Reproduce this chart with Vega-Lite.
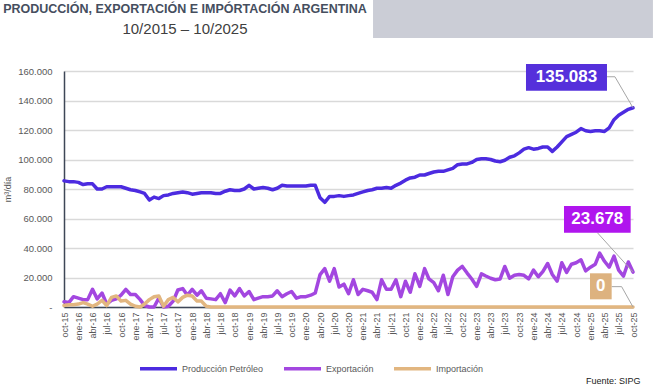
{
  "$schema": "https://vega.github.io/schema/vega-lite/v6.json",
  "width": 569,
  "height": 236,
  "autosize": {"type": "none"},
  "padding": {"left": 64, "top": 71, "right": 20, "bottom": 80},
  "background": "white",
  "config": {
    "view": {"stroke": null},
    "font": "Liberation Sans"
  },
  "title": {
    "text": "PRODUCCIÓN, EXPORTACIÓN E IMPÓRTACIÓN ARGENTINA",
    "subtitle": "10/2015 – 10/2025",
    "anchor": "start",
    "frame": "group",
    "align": "center",
    "dx": 121,
    "offset": -37,
    "font": "Liberation Sans",
    "fontSize": 12.5,
    "fontWeight": "bold",
    "color": "#454E5E",
    "subtitleFont": "Liberation Sans",
    "subtitleFontSize": 15,
    "subtitleColor": "#404040",
    "subtitlePadding": 6
  },
  "datasets": {
    "serie": [
      {"fecha": "2015-10-01", "Producción Petróleo": 85500, "Exportación": 3500, "Importación": 1000},
      {"fecha": "2015-11-01", "Producción Petróleo": 85000, "Exportación": 3000, "Importación": 1500},
      {"fecha": "2015-12-01", "Producción Petróleo": 85000, "Exportación": 7000, "Importación": 1500},
      {"fecha": "2016-01-01", "Producción Petróleo": 84500, "Exportación": 6000, "Importación": 2000},
      {"fecha": "2016-02-01", "Producción Petróleo": 83000, "Exportación": 5000, "Importación": 3000},
      {"fecha": "2016-03-01", "Producción Petróleo": 83500, "Exportación": 5000, "Importación": 2000},
      {"fecha": "2016-04-01", "Producción Petróleo": 83500, "Exportación": 12000, "Importación": 500},
      {"fecha": "2016-05-01", "Producción Petróleo": 80000, "Exportación": 5500, "Importación": 2000},
      {"fecha": "2016-06-01", "Producción Petróleo": 80000, "Exportación": 9500, "Importación": 4500},
      {"fecha": "2016-07-01", "Producción Petróleo": 81500, "Exportación": 2000, "Importación": 1000},
      {"fecha": "2016-08-01", "Producción Petróleo": 81500, "Exportación": 4500, "Importación": 6500},
      {"fecha": "2016-09-01", "Producción Petróleo": 81500, "Exportación": 5500, "Importación": 7500},
      {"fecha": "2016-10-01", "Producción Petróleo": 81500, "Exportación": 8000, "Importación": 4000},
      {"fecha": "2016-11-01", "Producción Petróleo": 80500, "Exportación": 12000, "Importación": 4500},
      {"fecha": "2016-12-01", "Producción Petróleo": 79500, "Exportación": 8500, "Importación": 2000},
      {"fecha": "2017-01-01", "Producción Petróleo": 79000, "Exportación": 8500, "Importación": 500},
      {"fecha": "2017-02-01", "Producción Petróleo": 78000, "Exportación": 5000, "Importación": 0},
      {"fecha": "2017-03-01", "Producción Petróleo": 77000, "Exportación": 1000, "Importación": 2000},
      {"fecha": "2017-04-01", "Producción Petróleo": 72500, "Exportación": 0, "Importación": 5000},
      {"fecha": "2017-05-01", "Producción Petróleo": 74500, "Exportación": 0, "Importación": 7000},
      {"fecha": "2017-06-01", "Producción Petróleo": 73500, "Exportación": 6000, "Importación": 7500},
      {"fecha": "2017-07-01", "Producción Petróleo": 75500, "Exportación": 0, "Importación": 500},
      {"fecha": "2017-08-01", "Producción Petróleo": 76000, "Exportación": 500, "Importación": 5000},
      {"fecha": "2017-09-01", "Producción Petróleo": 77000, "Exportación": 4000, "Importación": 6500},
      {"fecha": "2017-10-01", "Producción Petróleo": 77500, "Exportación": 11500, "Importación": 3500},
      {"fecha": "2017-11-01", "Producción Petróleo": 78000, "Exportación": 12500, "Importación": 6500},
      {"fecha": "2017-12-01", "Producción Petróleo": 77500, "Exportación": 8000, "Importación": 8000},
      {"fecha": "2018-01-01", "Producción Petróleo": 76500, "Exportación": 12000, "Importación": 7500},
      {"fecha": "2018-02-01", "Producción Petróleo": 77000, "Exportación": 8000, "Importación": 4000},
      {"fecha": "2018-03-01", "Producción Petróleo": 77500, "Exportación": 11000, "Importación": 4000},
      {"fecha": "2018-04-01", "Producción Petróleo": 77500, "Exportación": 6000, "Importación": 500},
      {"fecha": "2018-05-01", "Producción Petróleo": 77500, "Exportación": 5500, "Importación": 0},
      {"fecha": "2018-06-01", "Producción Petróleo": 77000, "Exportación": 5000, "Importación": 0},
      {"fecha": "2018-07-01", "Producción Petróleo": 77000, "Exportación": 9000, "Importación": 0},
      {"fecha": "2018-08-01", "Producción Petróleo": 78500, "Exportación": 3000, "Importación": 0},
      {"fecha": "2018-09-01", "Producción Petróleo": 79500, "Exportación": 11500, "Importación": 0},
      {"fecha": "2018-10-01", "Producción Petróleo": 79000, "Exportación": 7500, "Importación": 0},
      {"fecha": "2018-11-01", "Producción Petróleo": 79000, "Exportación": 12500, "Importación": 0},
      {"fecha": "2018-12-01", "Producción Petróleo": 80000, "Exportación": 7500, "Importación": 0},
      {"fecha": "2019-01-01", "Producción Petróleo": 82500, "Exportación": 10500, "Importación": 0},
      {"fecha": "2019-02-01", "Producción Petróleo": 80000, "Exportación": 5000, "Importación": 0},
      {"fecha": "2019-03-01", "Producción Petróleo": 80500, "Exportación": 6000, "Importación": 0},
      {"fecha": "2019-04-01", "Producción Petróleo": 81000, "Exportación": 7000, "Importación": 0},
      {"fecha": "2019-05-01", "Producción Petróleo": 80500, "Exportación": 7000, "Importación": 0},
      {"fecha": "2019-06-01", "Producción Petróleo": 79500, "Exportación": 7500, "Importación": 0},
      {"fecha": "2019-07-01", "Producción Petróleo": 80500, "Exportación": 11000, "Importación": 0},
      {"fecha": "2019-08-01", "Producción Petróleo": 82500, "Exportación": 7000, "Importación": 0},
      {"fecha": "2019-09-01", "Producción Petróleo": 82000, "Exportación": 9000, "Importación": 0},
      {"fecha": "2019-10-01", "Producción Petróleo": 82000, "Exportación": 10500, "Importación": 0},
      {"fecha": "2019-11-01", "Producción Petróleo": 82000, "Exportación": 6000, "Importación": 0},
      {"fecha": "2019-12-01", "Producción Petróleo": 82000, "Exportación": 7000, "Importación": 0},
      {"fecha": "2020-01-01", "Producción Petróleo": 82000, "Exportación": 7000, "Importación": 0},
      {"fecha": "2020-02-01", "Producción Petróleo": 82500, "Exportación": 8000, "Importación": 0},
      {"fecha": "2020-03-01", "Producción Petróleo": 82500, "Exportación": 9500, "Importación": 0},
      {"fecha": "2020-04-01", "Producción Petróleo": 74000, "Exportación": 22000, "Importación": 0},
      {"fecha": "2020-05-01", "Producción Petróleo": 71000, "Exportación": 26000, "Importación": 0},
      {"fecha": "2020-06-01", "Producción Petróleo": 75000, "Exportación": 17500, "Importación": 0},
      {"fecha": "2020-07-01", "Producción Petróleo": 75000, "Exportación": 26000, "Importación": 0},
      {"fecha": "2020-08-01", "Producción Petróleo": 75500, "Exportación": 13500, "Importación": 0},
      {"fecha": "2020-09-01", "Producción Petróleo": 75000, "Exportación": 15500, "Importación": 0},
      {"fecha": "2020-10-01", "Producción Petróleo": 75500, "Exportación": 9000, "Importación": 0},
      {"fecha": "2020-11-01", "Producción Petróleo": 76000, "Exportación": 18500, "Importación": 0},
      {"fecha": "2020-12-01", "Producción Petróleo": 77000, "Exportación": 8500, "Importación": 0},
      {"fecha": "2021-01-01", "Producción Petróleo": 78000, "Exportación": 12000, "Importación": 0},
      {"fecha": "2021-02-01", "Producción Petróleo": 79000, "Exportación": 11000, "Importación": 0},
      {"fecha": "2021-03-01", "Producción Petróleo": 79500, "Exportación": 10000, "Importación": 0},
      {"fecha": "2021-04-01", "Producción Petróleo": 80500, "Exportación": 5000, "Importación": 0},
      {"fecha": "2021-05-01", "Producción Petróleo": 80500, "Exportación": 18500, "Importación": 0},
      {"fecha": "2021-06-01", "Producción Petróleo": 81000, "Exportación": 12000, "Importación": 0},
      {"fecha": "2021-07-01", "Producción Petróleo": 80500, "Exportación": 12000, "Importación": 0},
      {"fecha": "2021-08-01", "Producción Petróleo": 82500, "Exportación": 18500, "Importación": 0},
      {"fecha": "2021-09-01", "Producción Petróleo": 84000, "Exportación": 7000, "Importación": 0},
      {"fecha": "2021-10-01", "Producción Petróleo": 86000, "Exportación": 17500, "Importación": 0},
      {"fecha": "2021-11-01", "Producción Petróleo": 87500, "Exportación": 10000, "Importación": 0},
      {"fecha": "2021-12-01", "Producción Petróleo": 88000, "Exportación": 22500, "Importación": 0},
      {"fecha": "2022-01-01", "Producción Petróleo": 89500, "Exportación": 14000, "Importación": 0},
      {"fecha": "2022-02-01", "Producción Petróleo": 89500, "Exportación": 26000, "Importación": 0},
      {"fecha": "2022-03-01", "Producción Petróleo": 90500, "Exportación": 19000, "Importación": 0},
      {"fecha": "2022-04-01", "Producción Petróleo": 91500, "Exportación": 16500, "Importación": 0},
      {"fecha": "2022-05-01", "Producción Petróleo": 92000, "Exportación": 11000, "Importación": 0},
      {"fecha": "2022-06-01", "Producción Petróleo": 92000, "Exportación": 21500, "Importación": 0},
      {"fecha": "2022-07-01", "Producción Petróleo": 93000, "Exportación": 8500, "Importación": 0},
      {"fecha": "2022-08-01", "Producción Petróleo": 94000, "Exportación": 20500, "Importación": 0},
      {"fecha": "2022-09-01", "Producción Petróleo": 96500, "Exportación": 25000, "Importación": 0},
      {"fecha": "2022-10-01", "Producción Petróleo": 97000, "Exportación": 27500, "Importación": 0},
      {"fecha": "2022-11-01", "Producción Petróleo": 97000, "Exportación": 23000, "Importación": 0},
      {"fecha": "2022-12-01", "Producción Petróleo": 98000, "Exportación": 19000, "Importación": 0},
      {"fecha": "2023-01-01", "Producción Petróleo": 100000, "Exportación": 14000, "Importación": 0},
      {"fecha": "2023-02-01", "Producción Petróleo": 100500, "Exportación": 22500, "Importación": 0},
      {"fecha": "2023-03-01", "Producción Petróleo": 100500, "Exportación": 21000, "Importación": 0},
      {"fecha": "2023-04-01", "Producción Petróleo": 100000, "Exportación": 19500, "Importación": 0},
      {"fecha": "2023-05-01", "Producción Petróleo": 99000, "Exportación": 18500, "Importación": 0},
      {"fecha": "2023-06-01", "Producción Petróleo": 98500, "Exportación": 19000, "Importación": 0},
      {"fecha": "2023-07-01", "Producción Petróleo": 99500, "Exportación": 27500, "Importación": 0},
      {"fecha": "2023-08-01", "Producción Petróleo": 101500, "Exportación": 19500, "Importación": 0},
      {"fecha": "2023-09-01", "Producción Petróleo": 102500, "Exportación": 21500, "Importación": 0},
      {"fecha": "2023-10-01", "Producción Petróleo": 104500, "Exportación": 22000, "Importación": 0},
      {"fecha": "2023-11-01", "Producción Petróleo": 107000, "Exportación": 21500, "Importación": 0},
      {"fecha": "2023-12-01", "Producción Petróleo": 108000, "Exportación": 19000, "Importación": 0},
      {"fecha": "2024-01-01", "Producción Petróleo": 107000, "Exportación": 25000, "Importación": 0},
      {"fecha": "2024-02-01", "Producción Petróleo": 107500, "Exportación": 20500, "Importación": 0},
      {"fecha": "2024-03-01", "Producción Petróleo": 108500, "Exportación": 24000, "Importación": 0},
      {"fecha": "2024-04-01", "Producción Petróleo": 108500, "Exportación": 29500, "Importación": 0},
      {"fecha": "2024-05-01", "Producción Petróleo": 105500, "Exportación": 22000, "Importación": 0},
      {"fecha": "2024-06-01", "Producción Petróleo": 108500, "Exportación": 17500, "Importación": 0},
      {"fecha": "2024-07-01", "Producción Petróleo": 112000, "Exportación": 30000, "Importación": 0},
      {"fecha": "2024-08-01", "Producción Petróleo": 115500, "Exportación": 23500, "Importación": 0},
      {"fecha": "2024-09-01", "Producción Petróleo": 117000, "Exportación": 29000, "Importación": 0},
      {"fecha": "2024-10-01", "Producción Petróleo": 118500, "Exportación": 30000, "Importación": 0},
      {"fecha": "2024-11-01", "Producción Petróleo": 121000, "Exportación": 32000, "Importación": 0},
      {"fecha": "2024-12-01", "Producción Petróleo": 119500, "Exportación": 24500, "Importación": 0},
      {"fecha": "2025-01-01", "Producción Petróleo": 119000, "Exportación": 27000, "Importación": 0},
      {"fecha": "2025-02-01", "Producción Petróleo": 119500, "Exportación": 29000, "Importación": 0},
      {"fecha": "2025-03-01", "Producción Petróleo": 119500, "Exportación": 36500, "Importación": 0},
      {"fecha": "2025-04-01", "Producción Petróleo": 119000, "Exportación": 31000, "Importación": 0},
      {"fecha": "2025-05-01", "Producción Petróleo": 121500, "Exportación": 27000, "Importación": 0},
      {"fecha": "2025-06-01", "Producción Petróleo": 127000, "Exportación": 34500, "Importación": 0},
      {"fecha": "2025-07-01", "Producción Petróleo": 130000, "Exportación": 25000, "Importación": 0},
      {"fecha": "2025-08-01", "Producción Petróleo": 132000, "Exportación": 21000, "Importación": 0},
      {"fecha": "2025-09-01", "Producción Petróleo": 134000, "Exportación": 30500, "Importación": 0},
      {"fecha": "2025-10-01", "Producción Petróleo": 135083, "Exportación": 23678, "Importación": 0}
    ],
    "cajas": [
      {"serie": "Producción Petróleo", "texto": "135.083", "x1": "2023-11-14", "x2": "2025-04-17", "y1": 164700, "y2": 146600, "xc": "2024-07-31", "yc": 155700},
      {"serie": "Exportación", "texto": "23.678", "x1": "2024-07-15", "x2": "2025-09-16", "y1": 68500, "y2": 50400, "xc": "2025-02-14", "yc": 59500},
      {"serie": "Importación", "texto": "0", "x1": "2024-12-29", "x2": "2025-05-17", "y1": 22850, "y2": 5200, "xc": "2025-03-08", "yc": 14000}
    ],
    "guias": [
      {"g": "p", "o": 1, "fecha": "2025-04-17", "valor": 156100},
      {"g": "p", "o": 2, "fecha": "2025-06-07", "valor": 156100},
      {"g": "p", "o": 3, "fecha": "2025-10-01", "valor": 135083},
      {"g": "e", "o": 1, "fecha": "2025-02-14", "valor": 50400},
      {"g": "e", "o": 2, "fecha": "2025-10-01", "valor": 23678},
      {"g": "i", "o": 1, "fecha": "2025-05-17", "valor": 13800},
      {"g": "i", "o": 2, "fecha": "2025-07-20", "valor": 13800},
      {"g": "i", "o": 3, "fecha": "2025-10-01", "valor": 0}
    ],
    "fondo": [
      {"x1": "2021-03-07", "x2": "2026-02-06", "y1": 208200, "y2": 182400}
    ]
  },
  "layer": [
    {
      "data": {"name": "serie"},
      "transform": [
        {"fold": ["Producción Petróleo", "Exportación", "Importación"], "as": ["serie", "valor"]}
      ],
      "mark": {"type": "line", "strokeWidth": 3.5, "strokeJoin": "round", "strokeCap": "round"},
      "encoding": {
        "x": {
          "field": "fecha",
          "type": "temporal",
          "scale": {
            "type": "utc",
            "domain": [
              {"year": 2015, "month": 10, "date": 1, "utc": true},
              {"year": 2025, "month": 10, "date": 1, "utc": true}
            ],
            "nice": false
          },
          "axis": {
            "title": "Fuente: SIPG",
            "titleFontSize": 9,
            "titleFontWeight": "normal",
            "titleColor": "#222222",
            "titleAnchor": null,
            "titleAlign": "right",
            "titleBaseline": "middle",
            "titleX": 576,
            "titleY": 73,
            "tickCount": {"interval": "month", "step": 3},
            "labelExpr": "['ene','feb','mar','abr','may','jun','jul','ago','sep','oct','nov','dic'][utcmonth(datum.value)] + '-' + utcFormat(datum.value, '%y')",
            "labelAngle": -90,
            "labelFontSize": 9,
            "labelColor": "#595959",
            "labelPadding": 5,
            "labelOverlap": false,
            "labelFlush": false,
            "labelBound": false,
            "ticks": false,
            "grid": false,
            "domainColor": "#3E4757",
            "domainWidth": 1.5
          }
        },
        "y": {
          "field": "valor",
          "type": "quantitative",
          "scale": {"domain": [0, 160000], "nice": false},
          "axis": {
            "title": "m³/día",
            "titleFontSize": 9,
            "titleFontWeight": "normal",
            "titleColor": "#595959",
            "titlePadding": 5,
            "values": [0, 20000, 40000, 60000, 80000, 100000, 120000, 140000, 160000],
            "tickCount": 10,
            "labelExpr": "datum.value == 0 ? '-' : replace(format(datum.value, ','), ',', '.')",
            "labelFontSize": 9.5,
            "labelColor": "#595959",
            "labelPadding": 12,
            "labelOverlap": false,
            "labelFlush": false,
            "ticks": false,
            "grid": true,
            "gridColor": "#D9D9D9",
            "gridWidth": 1.5,
            "domainColor": "#3E4757",
            "domainWidth": 1.5
          }
        },
        "color": {
          "field": "serie",
          "type": "nominal",
          "scale": {
            "domain": ["Producción Petróleo", "Exportación", "Importación"],
            "range": ["#4C2BE0", "#A347E0", "#E2B680"]
          },
          "legend": {
            "orient": "none",
            "legendX": 74,
            "legendY": 277,
            "direction": "horizontal",
            "title": null,
            "symbolType": "stroke",
            "symbolSize": 1369,
            "symbolStrokeWidth": 3.5,
            "labelFontSize": 9,
            "labelColor": "#595959",
            "labelOffset": 3,
            "columnPadding": 13,
            "padding": 0
          }
        }
      }
    },
    {
      "data": {"name": "fondo"},
      "mark": {"type": "rect", "fill": "#CBCDD6"},
      "encoding": {
        "x": {"field": "x1", "type": "temporal"},
        "x2": {"field": "x2"},
        "y": {"field": "y1", "type": "quantitative"},
        "y2": {"field": "y2"}
      }
    },
    {
      "data": {"name": "guias"},
      "mark": {"type": "line", "stroke": "#A6A6A6", "strokeWidth": 1},
      "encoding": {
        "x": {"field": "fecha", "type": "temporal"},
        "y": {"field": "valor", "type": "quantitative"},
        "detail": {"field": "g"},
        "order": {"field": "o"}
      }
    },
    {
      "data": {"name": "cajas"},
      "mark": {"type": "rect"},
      "encoding": {
        "x": {"field": "x1", "type": "temporal"},
        "x2": {"field": "x2"},
        "y": {"field": "y1", "type": "quantitative"},
        "y2": {"field": "y2"},
        "fill": {
          "field": "serie",
          "type": "nominal",
          "scale": {
            "domain": ["Producción Petróleo", "Exportación", "Importación"],
            "range": ["#5530DB", "#B015EE", "#DDB27F"]
          },
          "legend": null
        }
      }
    },
    {
      "data": {"name": "cajas"},
      "mark": {"type": "text", "color": "white", "fontWeight": "bold", "fontSize": 17, "align": "center", "baseline": "middle"},
      "encoding": {
        "x": {"field": "xc", "type": "temporal"},
        "y": {"field": "yc", "type": "quantitative"},
        "text": {"field": "texto"}
      }
    }
  ]
}
